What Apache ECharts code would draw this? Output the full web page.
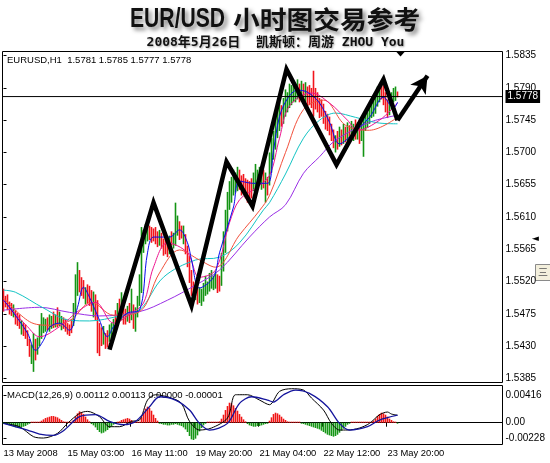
<!DOCTYPE html>
<html><head><meta charset="utf-8">
<script src="https://cdn.jsdelivr.net/npm/echarts@6/dist/echarts.min.js"></script>
<style>html,body{margin:0;padding:0;background:#fff}#c{width:550px;height:463px}</style>
</head><body><div id="c"></div>
<script>
// ---------- data ----------
const SLOTS = 250; // bar slots on the time axis (incl. chart shift space)
const tickBars = [0, 32, 64, 96, 128, 160, 192];
const tickLabels = ['13 May 2008', '15 May 03:00', '16 May 11:00', '19 May 20:00', '21 May 04:00', '22 May 12:00', '23 May 20:00'];
const priceTicks = [1.5385, 1.5430, 1.5475, 1.5520, 1.5565, 1.5610, 1.5655, 1.5700, 1.5745, 1.5790, 1.5835];
const macdTicks = [0.00416, 0, -0.00228];
const macdTickLabels = ['0.00416', '0.00', '-0.00228'];
const lastBarOHLC = [1.5781, 1.5785, 1.5777, 1.5778]; // header of the chart
const lastPrice = 1.5778;

// H1 bars: [low, high] per hour
const barRange = [
[1.5478,1.5510],[1.5484,1.5500],[1.5480,1.5502],[1.5474,1.5492],[1.5472,1.5490],[1.5470,1.5488],[1.5460,1.5480],[1.5458,1.5476],
[1.5454,1.5474],[1.5446,1.5466],[1.5444,1.5462],[1.5440,1.5460],[1.5430,1.5452],[1.5415,1.5440],[1.5405,1.5432],[1.5394,1.5448],
[1.5410,1.5440],[1.5418,1.5442],[1.5430,1.5460],[1.5440,1.5476],[1.5448,1.5470],[1.5450,1.5468],[1.5452,1.5470],[1.5450,1.5474],
[1.5454,1.5472],[1.5455,1.5478],[1.5456,1.5474],[1.5456,1.5484],[1.5458,1.5478],[1.5452,1.5472],[1.5454,1.5470],[1.5450,1.5468],
[1.5446,1.5462],[1.5444,1.5460],[1.5448,1.5468],[1.5458,1.5490],[1.5476,1.5530],[1.5500,1.5547],[1.5505,1.5536],[1.5500,1.5526],
[1.5496,1.5522],[1.5488,1.5512],[1.5490,1.5516],[1.5486,1.5514],[1.5478,1.5508],[1.5470,1.5506],[1.5466,1.5502],[1.5420,1.5494],
[1.5416,1.5462],[1.5430,1.5456],[1.5432,1.5458],[1.5426,1.5448],[1.5428,1.5452],[1.5436,1.5460],[1.5440,1.5462],[1.5442,1.5468],
[1.5450,1.5480],[1.5462,1.5490],[1.5464,1.5496],[1.5466,1.5505],[1.5460,1.5490],[1.5460,1.5482],[1.5464,1.5486],[1.5462,1.5490],
[1.5466,1.5510],[1.5454,1.5488],[1.5450,1.5484],[1.5470,1.5500],[1.5486,1.5530],[1.5504,1.5596],[1.5560,1.5592],[1.5572,1.5600],
[1.5576,1.5596],[1.5578,1.5598],[1.5574,1.5596],[1.5576,1.5594],[1.5572,1.5596],[1.5568,1.5590],[1.5570,1.5592],[1.5566,1.5588],
[1.5556,1.5580],[1.5558,1.5580],[1.5554,1.5578],[1.5558,1.5584],[1.5570,1.5590],[1.5566,1.5588],[1.5570,1.5630],[1.5584,1.5612],
[1.5578,1.5604],[1.5580,1.5598],[1.5572,1.5598],[1.5558,1.5586],[1.5540,1.5570],[1.5518,1.5556],[1.5500,1.5536],[1.5492,1.5520],
[1.5494,1.5516],[1.5488,1.5512],[1.5490,1.5512],[1.5486,1.5510],[1.5492,1.5518],[1.5500,1.5528],[1.5502,1.5520],[1.5506,1.5532],
[1.5510,1.5536],[1.5508,1.5528],[1.5510,1.5534],[1.5504,1.5530],[1.5506,1.5528],[1.5514,1.5560],[1.5534,1.5590],[1.5560,1.5620],
[1.5590,1.5645],[1.5620,1.5660],[1.5630,1.5666],[1.5640,1.5676],[1.5644,1.5672],[1.5646,1.5680],[1.5648,1.5676],[1.5640,1.5668],
[1.5642,1.5670],[1.5636,1.5664],[1.5630,1.5662],[1.5634,1.5660],[1.5636,1.5664],[1.5646,1.5672],[1.5650,1.5684],[1.5652,1.5676],
[1.5656,1.5680],[1.5648,1.5678],[1.5650,1.5676],[1.5630,1.5672],[1.5640,1.5666],[1.5654,1.5700],[1.5672,1.5720],[1.5690,1.5730],
[1.5704,1.5748],[1.5720,1.5760],[1.5730,1.5770],[1.5736,1.5766],[1.5740,1.5776],[1.5750,1.5788],[1.5756,1.5784],[1.5762,1.5796],
[1.5766,1.5794],[1.5770,1.5800],[1.5770,1.5796],[1.5774,1.5802],[1.5770,1.5796],[1.5772,1.5800],[1.5768,1.5796],[1.5770,1.5798],
[1.5764,1.5792],[1.5766,1.5794],[1.5762,1.5790],[1.5750,1.5814],[1.5760,1.5790],[1.5756,1.5784],[1.5748,1.5776],[1.5750,1.5774],
[1.5740,1.5768],[1.5732,1.5758],[1.5730,1.5754],[1.5724,1.5750],[1.5716,1.5740],[1.5706,1.5732],[1.5700,1.5724],[1.5704,1.5730],
[1.5708,1.5736],[1.5710,1.5732],[1.5712,1.5740],[1.5714,1.5736],[1.5716,1.5742],[1.5716,1.5738],[1.5718,1.5744],[1.5716,1.5740],
[1.5718,1.5746],[1.5718,1.5742],[1.5712,1.5746],[1.5716,1.5744],[1.5694,1.5750],[1.5730,1.5756],[1.5734,1.5756],[1.5740,1.5764],
[1.5748,1.5774],[1.5750,1.5772],[1.5754,1.5782],[1.5764,1.5792],[1.5770,1.5792],[1.5774,1.5796],[1.5766,1.5794],[1.5756,1.5784],
[1.5748,1.5774],[1.5752,1.5776],[1.5760,1.5784],[1.5770,1.5790],[1.5772,1.5792],[1.5777,1.5785]
];
// bar direction as seen (u = up / green, d = down / red)
const barDir =
  'dddd' + 'dudddudd' + 'dduud' + 'uuuu' + 'uduududuudd' + 'ddd' + 'uuud' + 'ddudddud' + 'ddduddu' + 'uu' +
  'dududdududu' + 'uuuuuu' + 'ddddduddddud' + 'uuuddu' + 'dddd' + 'dudu' + 'uuuuuuuu' + 'ddu' + 'uuuuuuuu' +
  'ddddddd' + 'uuuuu' + 'dud' + 'uuuuuuduuuuuuu' + 'ududud' + 'ddddddddddddd' + 'ududududuudud' + 'uuuuuuuuuu' +
  'dddd' + 'uuuu' + 'd';

// moving averages read at sampled bars: [bar index, price]
const maBlue = [[0,1.5494],[3,1.5484],[12,1.5448],[16,1.5424],[20,1.5438],[23,1.5456],[28,1.5462],[33,1.5452],[37,1.5484],[40,1.5512],[43,1.5498],[48,1.5466],[52,1.5443],[55,1.5457],[62,1.5476],[68,1.5480],[72,1.5560],[75,1.5582],[83,1.5582],[88,1.5592],[92,1.5574],[94,1.5550],[98,1.5511],[105,1.5526],[108,1.5560],[115,1.5624],[118,1.5660],[125,1.5657],[132,1.5657],[135,1.5703],[138,1.5750],[142,1.5775],[147,1.5787],[152,1.5784],[158,1.5769],[163,1.5742],[168,1.5712],[175,1.5727],[183,1.5749],[190,1.5777],[195,1.5762],[197,1.5770]];
const maMagenta = [[0,1.5494],[12,1.5457],[18,1.5443],[28,1.5457],[38,1.5480],[46,1.5491],[55,1.5462],[64,1.5476],[70,1.5490],[75,1.5540],[82,1.5574],[92,1.5560],[98,1.5526],[106,1.5536],[113,1.5602],[118,1.5634],[126,1.5650],[133,1.5668],[138,1.5720],[143,1.5765],[154,1.5783],[163,1.5769],[172,1.5745],[177,1.5731],[188,1.5745],[197,1.5769]];
const maRed = [[0,1.5497],[13,1.5464],[23,1.5459],[33,1.5465],[44,1.5491],[55,1.5473],[68,1.5478],[78,1.5532],[88,1.5564],[98,1.5550],[106,1.5540],[118,1.5585],[128,1.5619],[133,1.5640],[141,1.5700],[150,1.5760],[160,1.5773],[171,1.5738],[183,1.5731],[197,1.5749]];
const maCyan = [[0,1.5508],[6,1.5505],[20,1.5483],[33,1.5466],[43,1.5465],[58,1.5472],[68,1.5480],[80,1.5526],[96,1.5550],[108,1.5554],[118,1.5574],[130,1.5620],[133,1.5630],[141,1.5670],[150,1.5720],[158,1.5745],[166,1.5755],[176,1.5749],[188,1.5741],[197,1.5740]];
const maPurple = [[0,1.5480],[18,1.5484],[33,1.5477],[48,1.5472],[68,1.5478],[82,1.5494],[96,1.5515],[108,1.5536],[123,1.5582],[133,1.5610],[141,1.5627],[150,1.5671],[158,1.5694],[166,1.5717],[183,1.5742],[197,1.5752]];

// hand-drawn zig-zag annotation: [bar index, price]
const zigzag = [[53,1.5425],[75,1.5630],[94,1.5486],[111.5,1.5687],[124.5,1.5625],[141.5,1.5816],[166.5,1.5683],[190,1.5802],[197,1.5745]];
const arrowTip = [212,1.5807];

// MACD(12,26,9)
const macdMain = [[0,-0.0001],[8,-0.0006],[15,-0.0021],[20,-0.0023],[27,-0.0016],[32,-0.0001],[38,0.0014],[42,0.0017],[48,0.0009],[53,-0.0006],[58,-0.0006],[64,0.0002],[68,0.0004],[72,0.0034],[76,0.0042],[84,0.0037],[89,0.0029],[93,0.0002],[98,-0.0011],[104,-0.0008],[112,0.0007],[116,0.0042],[122,0.0042],[128,0.0034],[133,0.0027],[138,0.0047],[144,0.0051],[150,0.0049],[154,0.0037],[160,0.0019],[164,-0.0001],[168,-0.0011],[172,-0.0011],[178,-0.0008],[183,-0.0001],[188,0.0012],[192,0.0016],[194,0.0013],[197,0.00112]];
const macdSignal = [[0,-0.0001],[12,-0.0011],[18,-0.0017],[25,-0.0019],[30,-0.0012],[38,0.0009],[46,0.0012],[53,0.0002],[60,-0.0003],[66,0.0002],[73,0.0024],[78,0.0039],[86,0.0034],[93,0.0019],[98,-0.0001],[103,-0.0011],[112,-0.0001],[118,0.0029],[124,0.0039],[132,0.0034],[135,0.0031],[140,0.0042],[146,0.0049],[153,0.0044],[162,0.0024],[168,-0.0001],[173,-0.0011],[182,-0.0006],[188,0.0004],[197,0.00113]];
const macdHist = [
-0.0001,-0.0002,-0.0003,-0.0004,-0.0005,-0.0006,-0.0007,-0.0008,-0.0008,-0.0007,-0.0006,-0.0005,-0.0003,-0.0001,
0.0001,0.0001,0.0001,0.0001,
0.0001,0.0003,0.0005,0.0007,0.0008,0.0009,0.0010,0.0010,0.0009,0.0008,0.0006,0.0004,0.0002,0.0001,
0.0001,0.0001,0.0001,
0.0004,0.0009,0.0014,0.0017,0.0016,0.0013,0.0009,0.0005,0.0002,
-0.0002,-0.0004,-0.0007,-0.0011,-0.0014,-0.0016,-0.0015,-0.0013,-0.0011,-0.0008,-0.0006,-0.0003,-0.0001,
0.0001,0.0002,0.0004,0.0005,0.0006,0.0007,0.0006,0.0004,0.0002,0.0001,
0.0001,0.0001,
0.0008,0.0015,0.0021,0.0024,0.0022,0.0018,0.0012,0.0007,0.0003,
-0.0001,-0.0002,-0.0003,-0.0003,-0.0004,-0.0004,-0.0003,-0.0003,-0.0002,-0.0003,-0.0004,-0.0005,-0.0007,-0.0010,
-0.0014,-0.0020,-0.0025,-0.0026,-0.0024,-0.0019,-0.0013,-0.0008,-0.0004,-0.0001,
0.0001,0.0001,0.0001,0.0001,0.0001,0.0001,
0.0002,0.0006,0.0012,0.0019,0.0025,0.0030,0.0029,0.0026,0.0022,0.0018,0.0013,0.0009,0.0005,0.0002,
-0.0002,-0.0004,-0.0005,-0.0006,-0.0006,-0.0005,-0.0005,-0.0004,-0.0003,-0.0002,-0.0001,
0.0003,0.0008,0.0013,0.0015,0.0014,0.0012,0.0009,0.0006,0.0004,0.0002,0.0001,
0.0001,0.0001,0.0001,0.0001,0.0001,
-0.0001,-0.0002,-0.0003,-0.0004,-0.0005,-0.0006,-0.0007,-0.0008,-0.0009,-0.0010,-0.0012,-0.0014,-0.0016,-0.0018,-0.0019,-0.0020,-0.0021,-0.0020,-0.0018,-0.0015,-0.0012,-0.0009,-0.0006,-0.0003,-0.0001,
0.0001,0.0001,0.0001,0.0001,0.0001,0.0001,0.0001,0.0001,0.0001,0.0001,0.0001,
0.0003,0.0006,0.0010,0.0013,0.0015,0.0014,0.0012,0.0009,0.0006,
0.0004,0.0002,0.0001,-0.00001
];

// ---------- chart ----------
const UP = '#139413', DOWN = '#f2141c';
const HUP = '#f01414', HDN = '#169616';
const slots = Array.from({length: SLOTS}, (_, i) => i);
const infoText = 'EURUSD,H1  ' + lastBarOHLC.map(v => v.toFixed(4)).join(' ');
const hLast = macdHist[macdHist.length - 1];
const macdText = 'MACD(12,26,9) ' + macdMain[macdMain.length-1][1].toFixed(5) + ' ' + macdSignal[macdSignal.length-1][1].toFixed(5) + ' ' +
  (hLast > 0 ? hLast : 0).toFixed(5) + ' ' + (hLast < 0 ? hLast : 0).toFixed(5);

const FONT = 'Liberation Sans';
const chart = echarts.init(document.getElementById('c'), null, {renderer: 'canvas', width: 550, height: 463});

function maSeries(data, color) {
  return {type: 'line', xAxisIndex: 1, yAxisIndex: 0, data, symbol: 'none', smooth: 0.35,
    lineStyle: {width: 1, color}, silent: true, z: 3};
}

const shadow = {textShadowColor: 'rgba(0,0,0,0.5)', textShadowBlur: 4, textShadowOffsetX: 3, textShadowOffsetY: 3};

chart.setOption({
  animation: false,
  backgroundColor: '#fff',
  grid: [
    {left: 2.5, width: 500, top: 51.5, height: 331, show: true, borderColor: '#000', borderWidth: 1, backgroundColor: 'transparent'},
    {left: 2.5, width: 500, top: 385.5, height: 59, show: true, borderColor: '#000', borderWidth: 1, backgroundColor: 'transparent'}
  ],
  xAxis: [
    {gridIndex: 0, type: 'category', data: slots, boundaryGap: true, show: false},
    {gridIndex: 0, type: 'value', min: -0.5, max: SLOTS - 0.5, show: false},
    {gridIndex: 1, type: 'category', data: slots, boundaryGap: true,
      axisLine: {show: true, lineStyle: {color: '#000', width: 1}},
      axisTick: {show: true, length: 4, interval: (i) => tickBars.includes(i), lineStyle: {color: '#000'}},
      axisLabel: {show: true, interval: (i) => tickBars.includes(i), align: 'left', margin: 4,
        formatter: (v) => tickLabels[tickBars.indexOf(Number(v))] || '',
        color: '#000', fontSize: 9.4, fontFamily: FONT},
      splitLine: {show: false}},
    {gridIndex: 1, type: 'value', min: -0.5, max: SLOTS - 0.5, show: false}
  ],
  yAxis: [
    {gridIndex: 0, type: 'value', position: 'right', min: 1.537914, max: 1.584086,
      axisLine: {show: false}, splitLine: {show: false},
      axisTick: {show: true, length: 3, customValues: priceTicks, lineStyle: {color: '#000'}},
      axisLabel: {show: true, customValues: priceTicks, formatter: v => v.toFixed(4), margin: 3,
        color: '#000', fontSize: 10, fontFamily: FONT}},
    {gridIndex: 1, type: 'value', position: 'right', min: -0.003273, max: 0.005586,
      axisLine: {show: false}, splitLine: {show: false},
      axisTick: {show: true, length: 3, customValues: macdTicks, lineStyle: {color: '#000'}},
      axisLabel: {show: true, customValues: macdTicks, margin: 3,
        formatter: v => { const k = macdTicks.findIndex(t => Math.abs(t - v) < 1e-9); return k >= 0 ? macdTickLabels[k] : ''; },
        color: '#000', fontSize: 10, fontFamily: FONT}}
  ],
  series: [
    // price bars: high-low line per hour, green up / red down
    {type: 'custom', xAxisIndex: 0, yAxisIndex: 0, data: barRange.map((b, i) => [i, b[0], b[1], barDir[i] === 'u' ? 1 : -1]),
      encode: {x: 0, y: [1, 2]}, silent: true, z: 2,
      renderItem: (params, api) => {
        const i = api.value(0);
        const lo = api.coord([i, api.value(1)]), hi = api.coord([i, api.value(2)]);
        return {type: 'line', shape: {x1: lo[0], y1: lo[1], x2: hi[0], y2: Math.min(hi[1], lo[1] - 1)},
          style: {stroke: api.value(3) > 0 ? UP : DOWN, lineWidth: 1.6}};
      }},
    maSeries(maPurple, '#9a2ee6'),
    maSeries(maCyan, '#14c4c4'),
    maSeries(maRed, '#f2503c'),
    maSeries(maMagenta, '#ee1490'),
    maSeries(maBlue, '#0808f0'),
    // current price line with its label box
    {type: 'line', xAxisIndex: 1, yAxisIndex: 0, data: [[-0.5, lastPrice], [SLOTS - 0.5, lastPrice]], symbol: 'none', silent: true, z: 4,
      lineStyle: {color: '#000', width: 1},
      endLabel: {show: true, formatter: () => lastPrice.toFixed(4), distance: 3,
        color: '#fff', backgroundColor: '#000', padding: [2, 2, 1, 2], fontSize: 10, fontFamily: FONT}},
    {type: 'line', xAxisIndex: 1, yAxisIndex: 0, data: zigzag, symbol: 'none', silent: true, z: 5,
      lineStyle: {width: 4.5, color: '#000', join: 'miter', cap: 'butt'},
      markLine: {silent: true, animation: false, symbol: ['none', 'arrow'], symbolSize: [14, 17],
        data: [[{coord: zigzag[zigzag.length - 1]}, {coord: arrowTip}]],
        lineStyle: {width: 4.5, color: '#000', type: 'solid'}, label: {show: false}}},
    // MACD histogram
    {type: 'custom', xAxisIndex: 2, yAxisIndex: 1, data: macdHist.map((v, i) => [i, v]), encode: {x: 0, y: 1}, silent: true,
      renderItem: (params, api) => {
        const i = api.value(0), v = api.value(1);
        const z0 = api.coord([i, 0]), p = api.coord([i, v]);
        const y2 = v >= 0 ? Math.min(p[1], z0[1] - 1) : Math.max(p[1], z0[1] + 1);
        return {type: 'line', shape: {x1: z0[0], y1: z0[1], x2: z0[0], y2},
          style: {stroke: v >= 0 ? HUP : HDN, lineWidth: 1.6}};
      }},
    {type: 'line', xAxisIndex: 3, yAxisIndex: 1, data: macdMain, symbol: 'none', smooth: 0.3, silent: true,
      lineStyle: {width: 1, color: '#000'}},
    {type: 'line', xAxisIndex: 3, yAxisIndex: 1, data: macdSignal, symbol: 'none', smooth: 0.3, silent: true,
      lineStyle: {width: 1.3, color: '#14149c'}}
  ],
  graphic: [
    {type: 'text', x: 130, y: 19, scaleX: 0.755, silent: true,
      style: Object.assign({text: 'EUR/USD', fontSize: 28, fontWeight: 'bold', fontFamily: FONT, fill: '#111', textVerticalAlign: 'middle'}, shadow)},
    {type: 'text', x: 233, y: 19, scaleX: 1.07, silent: true,
      style: Object.assign({text: '小时图交易参考', fontSize: 25, fontWeight: 'bold', fontFamily: 'Noto Sans CJK SC', fill: '#111', textVerticalAlign: 'middle'}, shadow)},
    {type: 'text', x: 275.5, y: 43, silent: true,
      style: {text: '2008年5月26日  凯斯顿：周游 ZHOU You', fontSize: 13, fontWeight: 'bold',
        fontFamily: '"DejaVu Sans Mono", "Noto Sans CJK SC"', fill: '#111', textAlign: 'center', textVerticalAlign: 'middle',
        textShadowColor: 'rgba(0,0,0,0.35)', textShadowBlur: 2, textShadowOffsetX: 1, textShadowOffsetY: 1}},
    {type: 'text', x: 7, y: 60, silent: true,
      style: {text: infoText, fontSize: 9.5, fontFamily: FONT, fill: '#000', textVerticalAlign: 'middle'}},
    {type: 'text', x: 7, y: 395.5, silent: true,
      style: {text: macdText, fontSize: 9.5, fontFamily: FONT, fill: '#000', textVerticalAlign: 'middle'}},
    {type: 'polygon', silent: true, shape: {points: [[396, 51.5], [405, 51.5], [400.5, 56.5]]}, style: {fill: '#000'}},
    {type: 'text', x: 532, y: 239, silent: true,
      style: {text: '◄', fontSize: 9, fontFamily: 'DejaVu Sans', fill: '#000', textVerticalAlign: 'middle'}},
    {type: 'rect', silent: true, shape: {x: 535.5, y: 264.5, width: 16, height: 16},
      style: {fill: '#f3efdc', stroke: '#8a8a8a', lineWidth: 1}},
    {type: 'text', x: 538, y: 272.5, silent: true,
      style: {text: '三', fontSize: 10, fontFamily: 'Noto Sans CJK SC', fill: '#555', textVerticalAlign: 'middle'}}
  ]
});
</script>
</body></html>
